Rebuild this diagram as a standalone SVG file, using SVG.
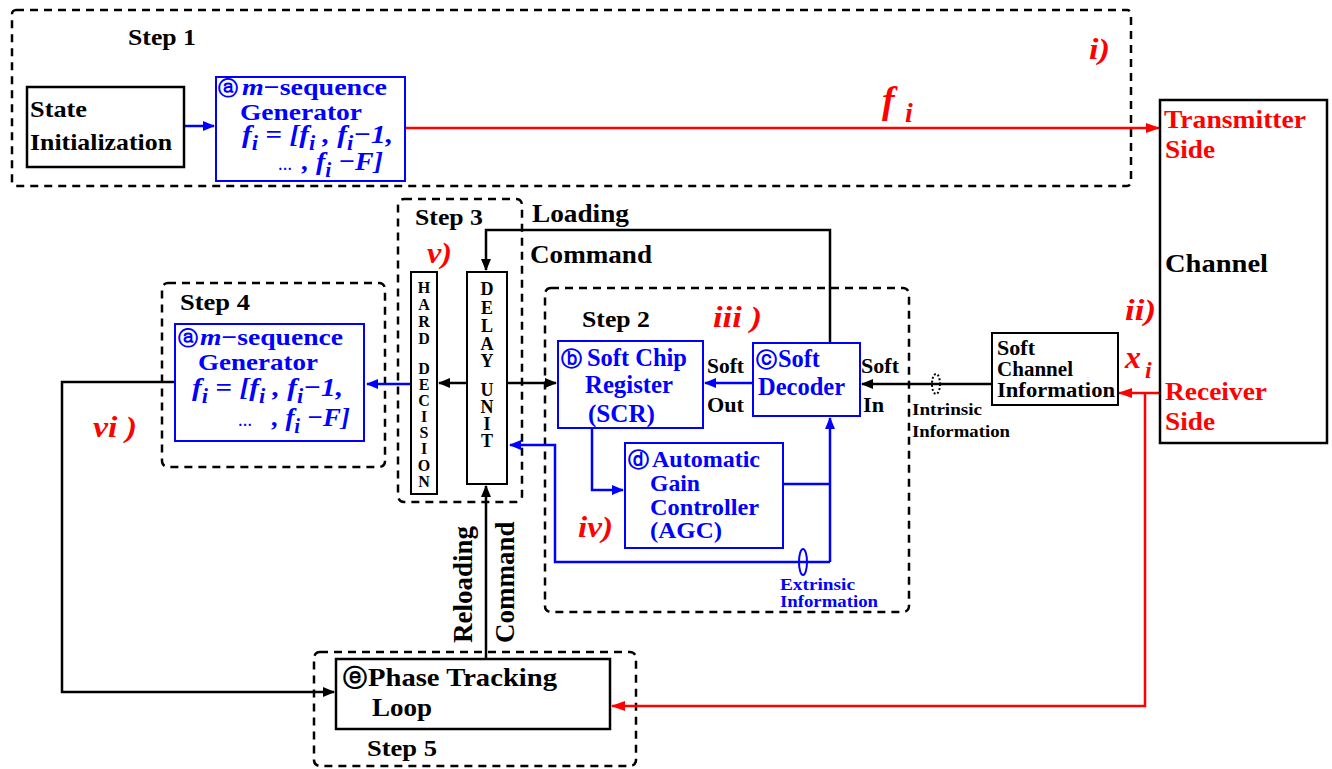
<svg xmlns="http://www.w3.org/2000/svg" width="1332" height="769" viewBox="0 0 1332 769">
<defs>
<style>
.t{font-family:'Liberation Serif','Times New Roman','DejaVu Serif',serif;font-weight:bold;fill:#000}
.b{fill:#0000ff}
.r{fill:#ff0000}
.it{font-style:italic}
.dash{fill:none;stroke:#000;stroke-width:2.5;stroke-dasharray:8 6}
.bx{fill:#fff;stroke:#000;stroke-width:2.5}
.bbx{fill:#fff;stroke:#0000ff;stroke-width:2}
.k{fill:none;stroke:#000;stroke-width:2.5}
.bl{fill:none;stroke:#0000ff;stroke-width:2.5}
.rd{fill:none;stroke:#ff0000;stroke-width:2.5}
</style>
<marker id="ak" markerWidth="12" markerHeight="10" refX="11" refY="5" orient="auto" markerUnits="userSpaceOnUse"><path d="M0,0 L12,5 L0,10 Z" fill="#000"/></marker>
<marker id="ab" markerWidth="12" markerHeight="10" refX="11" refY="5" orient="auto" markerUnits="userSpaceOnUse"><path d="M0,0 L12,5 L0,10 Z" fill="#0000ff"/></marker>
<marker id="ar" markerWidth="14" markerHeight="10" refX="13" refY="5" orient="auto" markerUnits="userSpaceOnUse"><path d="M0,0 L14,5 L0,10 Z" fill="#ff0000"/></marker>
</defs>
<rect width="1332" height="769" fill="#fff"/>
<g font-family="Liberation Serif, Times New Roman, DejaVu Serif, serif">

<g id="step1">
<rect class="dash" x="12" y="10" width="1119" height="176" rx="4"/>
<text class="t" x="128" y="45" font-size="24" textLength="68" lengthAdjust="spacingAndGlyphs">Step 1</text>
<text class="t r it" x="1089" y="59" font-size="30" textLength="21" lengthAdjust="spacingAndGlyphs">i)</text>
</g>
<g id="step2">
<rect class="dash" x="545" y="288" width="364" height="324" rx="6"/>
<text class="t" x="582" y="327" font-size="24" textLength="68" lengthAdjust="spacingAndGlyphs">Step 2</text>
<text class="t r it" x="713" y="327" font-size="30" textLength="49" lengthAdjust="spacingAndGlyphs">iii )</text>
<text class="t r it" x="578" y="537" font-size="30" textLength="35" lengthAdjust="spacingAndGlyphs">iv)</text>
</g>
<g id="step3">
<rect class="dash" x="398" y="199" width="124" height="303" rx="6"/>
<text class="t" x="415" y="225" font-size="24" textLength="68" lengthAdjust="spacingAndGlyphs">Step 3</text>
<text class="t r it" x="427" y="263" font-size="30" textLength="25" lengthAdjust="spacingAndGlyphs">v)</text>
</g>
<g id="step4">
<rect class="dash" x="162" y="283" width="223" height="184" rx="6"/>
<text class="t" x="180" y="310" font-size="24" textLength="70" lengthAdjust="spacingAndGlyphs">Step 4</text>
<text class="t r it" x="93" y="437" font-size="30" textLength="44" lengthAdjust="spacingAndGlyphs">vi )</text>
</g>
<g id="step5">
<rect class="dash" x="314" y="652" width="322" height="114" rx="6"/>
<text class="t" x="367" y="756" font-size="24" textLength="70" lengthAdjust="spacingAndGlyphs">Step 5</text>
</g>

<g id="connectors">
<line class="bl" x1="184" y1="126" x2="214" y2="126" marker-end="url(#ab)"/>
<line class="rd" x1="405" y1="128" x2="1159" y2="128" marker-end="url(#ar)"/>
<line class="k" x1="1219" y1="163" x2="1219" y2="247" marker-end="url(#ak)"/>
<line class="k" x1="1219" y1="280" x2="1219" y2="365" marker-end="url(#ak)"/>
<line class="rd" x1="1160" y1="393" x2="1119" y2="393" marker-end="url(#ar)"/>
<polyline class="rd" points="1145,393 1145,706 612,706" marker-end="url(#ar)"/>
<line class="k" x1="992" y1="384" x2="862" y2="384" marker-end="url(#ak)"/>
<ellipse cx="936" cy="384" rx="4" ry="10" fill="none" stroke="#000" stroke-width="2" stroke-dasharray="2 2"/>
<line class="bl" x1="753" y1="383" x2="705" y2="383" marker-end="url(#ab)"/>
<polyline class="k" points="830,343 830,230 486,230 486,270" marker-end="url(#ak)"/>
<polyline class="bl" points="592,428 592,490 623,490" marker-end="url(#ab)"/>
<polyline class="bl" points="783,484 830,484"/>
<line class="bl" x1="830" y1="562" x2="830" y2="418" marker-end="url(#ab)"/>
<polyline class="bl" points="830,562 555,562 555,445 510,445" marker-end="url(#ab)"/>
<ellipse cx="803" cy="562" rx="4" ry="13" fill="none" stroke="#0000ff" stroke-width="2"/>
<line class="k" x1="467" y1="383" x2="439" y2="383" marker-end="url(#ak)"/>
<line class="bl" x1="411" y1="384" x2="367" y2="384" marker-end="url(#ab)"/>
<line class="k" x1="507" y1="383" x2="556" y2="383" marker-end="url(#ak)"/>
<polyline class="k" points="175,382 62,382 62,692 334,692" marker-end="url(#ak)"/>
<line class="k" x1="486" y1="659" x2="486" y2="486" marker-end="url(#ak)"/>
<text class="t r it" x="882" y="113" font-size="38">f</text>
<text class="t r it" x="905" y="122" font-size="28">i</text>
<text class="t r it" x="1125" y="320" font-size="30" textLength="31" lengthAdjust="spacingAndGlyphs">ii)</text>
<text class="t r it" x="1125" y="368" font-size="32">x</text>
<text class="t r it" x="1145" y="378" font-size="24">i</text>
<text class="t" x="912" y="415" font-size="17" textLength="70" lengthAdjust="spacingAndGlyphs">Intrinsic</text>
<text class="t" x="912" y="437" font-size="17" textLength="98" lengthAdjust="spacingAndGlyphs">Information</text>
<text class="t b" x="780" y="590" font-size="17" textLength="75" lengthAdjust="spacingAndGlyphs">Extrinsic</text>
<text class="t b" x="780" y="607" font-size="17" textLength="98" lengthAdjust="spacingAndGlyphs">Information</text>
<text class="t" x="707" y="373" font-size="21" textLength="37" lengthAdjust="spacingAndGlyphs">Soft</text>
<text class="t" x="707" y="412" font-size="21" textLength="37" lengthAdjust="spacingAndGlyphs">Out</text>
<text class="t" x="861" y="373" font-size="21" textLength="38" lengthAdjust="spacingAndGlyphs">Soft</text>
<text class="t" x="863" y="412" font-size="21" textLength="21" lengthAdjust="spacingAndGlyphs">In</text>
<text class="t" x="532" y="222" font-size="25" textLength="97" lengthAdjust="spacingAndGlyphs">Loading</text>
<text class="t" x="530" y="263" font-size="25" textLength="122" lengthAdjust="spacingAndGlyphs">Command</text>
<text class="t" transform="translate(472,643) rotate(-90)" font-size="27">Reloading</text>
<text class="t" transform="translate(514,643) rotate(-90)" font-size="27">Command</text>
</g>

<g id="state-init">
<rect class="bx" x="27" y="87" width="157" height="80"/>
<text class="t" x="30" y="117" font-size="24" textLength="57" lengthAdjust="spacingAndGlyphs">State</text>
<text class="t" x="30" y="150" font-size="24" textLength="142" lengthAdjust="spacingAndGlyphs">Initialization</text>
</g>
<g id="mseq1">
<rect class="bbx" x="216" y="77" width="189" height="104"/>
<text class="t b" x="218" y="95" font-size="20">ⓐ</text>
<text class="t b" x="242" y="95" font-size="24" textLength="145" lengthAdjust="spacingAndGlyphs"><tspan class="it">m</tspan>−sequence</text>
<text class="t b" x="240" y="120" font-size="24" textLength="122" lengthAdjust="spacingAndGlyphs">Generator</text>
<text class="t b it" x="242" y="143" font-size="26" textLength="151" lengthAdjust="spacingAndGlyphs">f<tspan dy="7" font-size="20">i</tspan><tspan dy="-7"> = [f</tspan><tspan dy="7" font-size="20">i</tspan><tspan dy="-7"> , f</tspan><tspan dy="7" font-size="20">i</tspan><tspan dy="-7">−1,</tspan></text>
<text class="t b" x="278" y="170" font-size="14" font-weight="normal">…</text>
<text class="t b it" x="302" y="170" font-size="26" textLength="81" lengthAdjust="spacingAndGlyphs">, f<tspan dy="7" font-size="20">i</tspan><tspan dy="-7"> −F]</tspan></text>
</g>
<g id="channel-box">
<rect class="bx" x="1160" y="100" width="167" height="343"/>
<text class="t r" x="1164" y="128" font-size="26" textLength="142" lengthAdjust="spacingAndGlyphs">Transmitter</text>
<text class="t r" x="1165" y="158" font-size="26" textLength="50" lengthAdjust="spacingAndGlyphs">Side</text>
<text class="t" x="1165" y="272" font-size="26" textLength="103" lengthAdjust="spacingAndGlyphs">Channel</text>
<text class="t r" x="1165" y="400" font-size="26" textLength="102" lengthAdjust="spacingAndGlyphs">Receiver</text>
<text class="t r" x="1165" y="430" font-size="26" textLength="50" lengthAdjust="spacingAndGlyphs">Side</text>
</g>
<g id="soft-channel">
<rect fill="#fff" stroke="#000" stroke-width="2" x="992" y="333" width="126" height="72"/>
<text class="t" x="997" y="355" font-size="20" textLength="38" lengthAdjust="spacingAndGlyphs">Soft</text>
<text class="t" x="997" y="376" font-size="20" textLength="76" lengthAdjust="spacingAndGlyphs">Channel</text>
<text class="t" x="997" y="397" font-size="20" textLength="118" lengthAdjust="spacingAndGlyphs">Information</text>
</g>
<g id="scr">
<rect class="bbx" x="558" y="341" width="145" height="87"/>
<text class="t b" x="561" y="366" font-size="21">ⓑ</text>
<text class="t b" x="587" y="366" font-size="25" textLength="100" lengthAdjust="spacingAndGlyphs">Soft Chip</text>
<text class="t b" x="585" y="393" font-size="25" textLength="88" lengthAdjust="spacingAndGlyphs">Register</text>
<text class="t b" x="588" y="422" font-size="25" textLength="67" lengthAdjust="spacingAndGlyphs">(SCR)</text>
</g>
<g id="soft-decoder">
<rect class="bbx" x="753" y="343" width="107" height="73"/>
<text class="t b" x="756" y="367" font-size="21">ⓒ</text>
<text class="t b" x="778" y="367" font-size="25" textLength="42" lengthAdjust="spacingAndGlyphs">Soft</text>
<text class="t b" x="758" y="395" font-size="25" textLength="87" lengthAdjust="spacingAndGlyphs">Decoder</text>
</g>
<g id="agc">
<rect class="bbx" x="625" y="443" width="158" height="105"/>
<text class="t b" x="628" y="467" font-size="21">ⓓ</text>
<text class="t b" x="652" y="467" font-size="24" textLength="108" lengthAdjust="spacingAndGlyphs">Automatic</text>
<text class="t b" x="650" y="491" font-size="24" textLength="50" lengthAdjust="spacingAndGlyphs">Gain</text>
<text class="t b" x="650" y="515" font-size="24" textLength="109" lengthAdjust="spacingAndGlyphs">Controller</text>
<text class="t b" x="650" y="538" font-size="24" textLength="72" lengthAdjust="spacingAndGlyphs">(AGC)</text>
</g>
<g id="hard-decision">
<rect fill="#fff" stroke="#000" stroke-width="2" x="411" y="272" width="26" height="222"/>
<g class="t" font-size="16" text-anchor="middle">
<text x="424" y="293">H</text><text x="424" y="310">A</text><text x="424" y="327">R</text><text x="424" y="344">D</text>
<text x="424" y="374">D</text><text x="424" y="390">E</text><text x="424" y="406">C</text><text x="424" y="422">I</text>
<text x="424" y="438">S</text><text x="424" y="454">I</text><text x="424" y="471">O</text><text x="424" y="487">N</text>
</g>
</g>
<g id="delay-unit">
<rect fill="#fff" stroke="#000" stroke-width="2" x="467" y="272" width="40" height="212"/>
<g class="t" font-size="18" text-anchor="middle">
<text x="487" y="295">D</text><text x="487" y="314">E</text><text x="487" y="332">L</text><text x="487" y="350">A</text><text x="487" y="367">Y</text>
<text x="487" y="396">U</text><text x="487" y="413">N</text><text x="487" y="430">I</text><text x="487" y="447">T</text>
</g>
</g>
<g id="mseq2">
<rect class="bbx" x="175" y="324" width="189" height="117"/>
<text class="t b" x="178" y="345" font-size="20">ⓐ</text>
<text class="t b" x="200" y="345" font-size="24" textLength="143" lengthAdjust="spacingAndGlyphs"><tspan class="it">m</tspan>−sequence</text>
<text class="t b" x="198" y="370" font-size="24" textLength="120" lengthAdjust="spacingAndGlyphs">Generator</text>
<text class="t b it" x="192" y="396" font-size="26" textLength="151" lengthAdjust="spacingAndGlyphs">f<tspan dy="7" font-size="20">i</tspan><tspan dy="-7"> = [f</tspan><tspan dy="7" font-size="20">i</tspan><tspan dy="-7"> , f</tspan><tspan dy="7" font-size="20">i</tspan><tspan dy="-7">−1,</tspan></text>
<text class="t b" x="238" y="426" font-size="14" font-weight="normal">…</text>
<text class="t b it" x="272" y="426" font-size="26" textLength="78" lengthAdjust="spacingAndGlyphs">, f<tspan dy="7" font-size="20">i</tspan><tspan dy="-7"> −F]</tspan></text>
</g>
<g id="ptl">
<rect class="bx" x="336" y="659" width="274" height="70"/>
<text class="t" x="343" y="686" font-size="24">ⓔ</text>
<text class="t" x="368" y="686" font-size="26" textLength="189" lengthAdjust="spacingAndGlyphs">Phase Tracking</text>
<text class="t" x="372" y="716" font-size="26" textLength="60" lengthAdjust="spacingAndGlyphs">Loop</text>
</g>
</g>
</svg>
